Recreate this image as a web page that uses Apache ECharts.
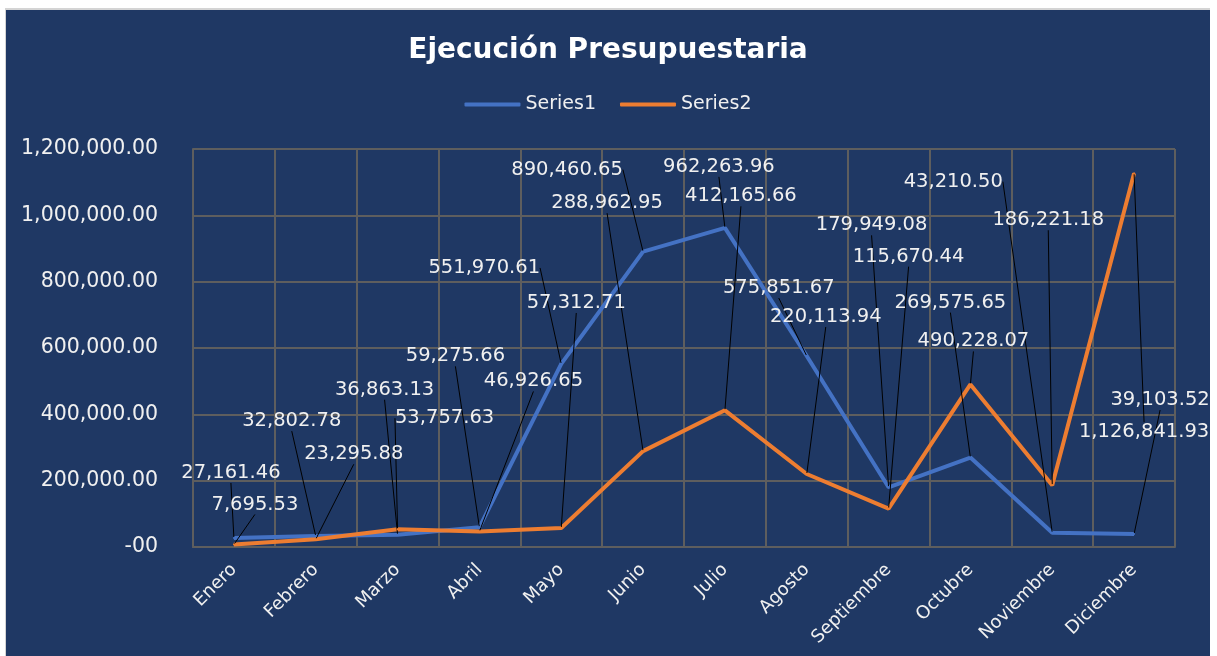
<!DOCTYPE html>
<html>
<head>
<meta charset="utf-8">
<script src="https://cdn.jsdelivr.net/npm/echarts@6/dist/echarts.min.js"></script>
<style>
html,body{margin:0;padding:0;background:#ffffff;width:1217px;height:656px;overflow:hidden;}
#frame{position:absolute;left:5px;top:8px;width:1205px;height:648px;background:#d4d4d4;}
#chart{position:absolute;left:6px;top:10px;width:1204px;height:646px;}
</style>
</head>
<body>
<div id="frame"></div>
<div id="chart"></div>
<script>
const categories = ['Enero','Febrero','Marzo','Abril','Mayo','Junio','Julio','Agosto','Septiembre','Octubre','Noviembre','Diciembre'];
const series1 = [27161.46, 32802.78, 36863.13, 59275.66, 551970.61, 890460.65, 962263.96, 575851.67, 179949.08, 269575.65, 43210.50, 39103.52];
const series2 = [7695.53, 23295.88, 53757.63, 46926.65, 57312.71, 288962.95, 412165.66, 220113.94, 115670.44, 490228.07, 186221.18, 1126841.93];
const yTickLabels = ['-00','200,000.00','400,000.00','600,000.00','800,000.00','1,000,000.00','1,200,000.00'];

// label offsets (px) from each point to its label centre
const labelOffsets1 = [[-3,-65],[-24,-115],[-13,-145],[-24,-171],[-77,-96],[-76,-82],[-6,-61],[-28,-68],[-17,-262],[-20,-155],[-99,-351],[26,-134]];
const labelOffsets2 = [[21,-40],[38,-85],[47,-111],[54,-150],[15,-225],[-36,-248],[16,-214],[19,-157],[20,-252],[3,-43],[-4,-265],[10,259]];
const offsets = [labelOffsets1, labelOffsets2];

const fmt = v => v.toLocaleString('en-US',{minimumFractionDigits:2, maximumFractionDigits:2});
const FONT = 'DejaVu Sans';
const TXT = '#f0f0f0';
const GRID = '#5e5e5e';

const chart = echarts.init(document.getElementById('chart'), null, {renderer:'canvas'});

function mkSeries(name, data, color){
  return {
    name: name,
    type: 'line',
    data: data,
    symbol: 'circle',
    symbolSize: 2,
    showSymbol: true,
    itemStyle: {color: color},
    lineStyle: {color: color, width: 4},
    label: {
      show: true,
      position: 'inside',
      color: TXT,
      fontFamily: FONT,
      fontSize: 19.5,
      formatter: p => fmt(p.value)
    },
    labelLine: {
      show: true,
      showAbove: false,
      lineStyle: {color: '#000000', width: 1}
    },
    labelLayout: function(params){
      const off = offsets[params.seriesIndex][params.dataIndex];
      return {
        x: params.rect.x + params.rect.width/2 + off[0],
        y: params.rect.y + params.rect.height/2 + off[1],
        align: 'center',
        verticalAlign: 'middle'
      };
    },
    emphasis: {disabled: true},
    animation: false
  };
}

chart.setOption({
  backgroundColor: '#1f3864',
  animation: false,
  title: {
    text: 'Ejecución Presupuestaria',
    left: 'center',
    top: 22,
    textStyle: {color: '#ffffff', fontFamily: FONT, fontWeight: 'bold', fontSize: 28}
  },
  legend: {
    top: 80,
    left: 'center',
    icon: 'roundRect',
    itemWidth: 56,
    itemHeight: 4,
    itemGap: 24,
    textStyle: {color: TXT, fontFamily: FONT, fontSize: 19},
    data: ['Series1','Series2']
  },
  grid: {left: 187, right: 35, top: 139, bottom: 109, containLabel: false},
  xAxis: {
    type: 'category',
    data: categories,
    boundaryGap: true,
    axisLine: {show: true, lineStyle: {color: GRID, width: 2}},
    axisTick: {show: false},
    splitLine: {show: true, lineStyle: {color: GRID, width: 2}},
    axisLabel: {
      color: TXT, fontFamily: FONT, fontSize: 18, rotate: 45, margin: 20, interval: 0
    }
  },
  yAxis: {
    type: 'value',
    min: 0,
    max: 1200000,
    interval: 200000,
    axisLine: {show: true, lineStyle: {color: GRID, width: 2}},
    axisTick: {show: false},
    splitLine: {show: true, lineStyle: {color: GRID, width: 2}},
    axisLabel: {
      color: TXT, fontFamily: FONT, fontSize: 20.5, margin: 35,
      formatter: v => yTickLabels[Math.round(v/200000)]
    }
  },
  series: [
    mkSeries('Series1', series1, '#4472c4'),
    mkSeries('Series2', series2, '#ed7d31')
  ]
});
</script>
</body>
</html>
